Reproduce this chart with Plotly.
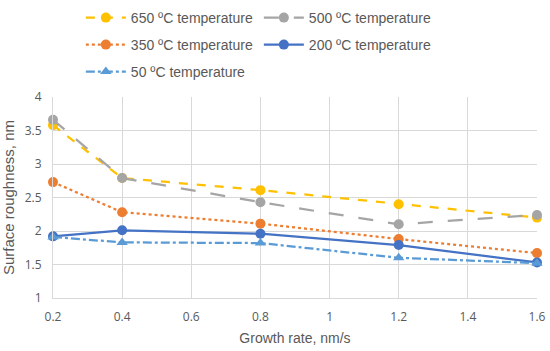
import plotly.graph_objects as go

growth_rate = [0.2, 0.4, 0.8, 1.2, 1.6]
names = ["650 ºC temperature", "500 ºC temperature", "350 ºC temperature",
         "200 ºC temperature", "50 ºC temperature"]
t650 = [3.58, 2.79, 2.61, 2.40, 2.20]
t500 = [3.66, 2.79, 2.43, 2.10, 2.24]
t350 = [2.73, 2.28, 2.11, 1.88, 1.67]
t200 = [1.92, 2.01, 1.96, 1.79, 1.53]
t50 = [1.91, 1.83, 1.82, 1.60, 1.52]
x_ticks = [0.2, 0.4, 0.6, 0.8, 1.0, 1.2, 1.4, 1.6]
y_ticks = [1, 1.5, 2, 2.5, 3, 3.5, 4]

series = [
    (names[0], t650, "#FFC000", "dash", "circle", "legend"),
    (names[1], t500, "#A5A5A5", "longdash", "circle", "legend"),
    (names[2], t350, "#ED7D31", "dot", "circle", "legend2"),
    (names[3], t200, "#4472C4", "solid", "circle", "legend2"),
    (names[4], t50, "#5B9BD5", "dashdot", "triangle-up", "legend3"),
]

fig = go.Figure()
for name, ys, color, dash, sym, leg in series:
    fig.add_trace(go.Scatter(
        x=growth_rate, y=ys, name=name, mode="lines+markers",
        line=dict(color=color, width=2.25, dash=dash),
        marker=dict(color=color, size=10, symbol=sym),
        cliponaxis=False, legend=leg,
    ))

leg_common = dict(orientation="h", xref="container", yref="container",
                  x=0.147, xanchor="left", yanchor="middle",
                  entrywidth=123, entrywidthmode="pixels",
                  font=dict(size=14, color="#595959",
                            family="Liberation Sans, Arial, sans-serif"),
                  itemwidth=40, bgcolor="rgba(0,0,0,0)")

fig.update_layout(
    width=550, height=351,
    margin=dict(l=53, r=13, t=97, b=53, autoexpand=False),
    paper_bgcolor="white", plot_bgcolor="white",
    font=dict(family="Open Sans, Arial, sans-serif", color="#595959", size=12),
    legend=dict(leg_common, y=1 - 18 / 351),
    legend2=dict(leg_common, y=1 - 45 / 351),
    legend3=dict(leg_common, y=1 - 72 / 351),
    xaxis=dict(range=[0.2, 1.6], tickvals=x_ticks, showgrid=True, gridcolor="#D9D9D9",
               gridwidth=1, zeroline=False, showline=True, linecolor="#D9D9D9",
               automargin=False,
               ticks="", ticklabelstandoff=8, tickfont=dict(size=12, color="#595959"),
               title=dict(text="Growth rate, nm/s",
                          font=dict(size=14, color="#595959", family="Liberation Sans, Arial, sans-serif"),
                          standoff=8)),
    yaxis=dict(range=[1, 4], tickvals=y_ticks, showgrid=True, gridcolor="#D9D9D9",
               gridwidth=1, zeroline=False, showline=True, linecolor="#D9D9D9",
               automargin=False,
               ticks="", ticklabelstandoff=8, tickfont=dict(size=12, color="#595959"),
               title=dict(text="Surface roughness, nm",
                          font=dict(size=15, color="#595959", family="Liberation Sans, Arial, sans-serif"),
                          standoff=6)),
)

fig.write_html("out.html", config={"displayModeBar": False},
               post_script="document.body.style.margin='0';")
